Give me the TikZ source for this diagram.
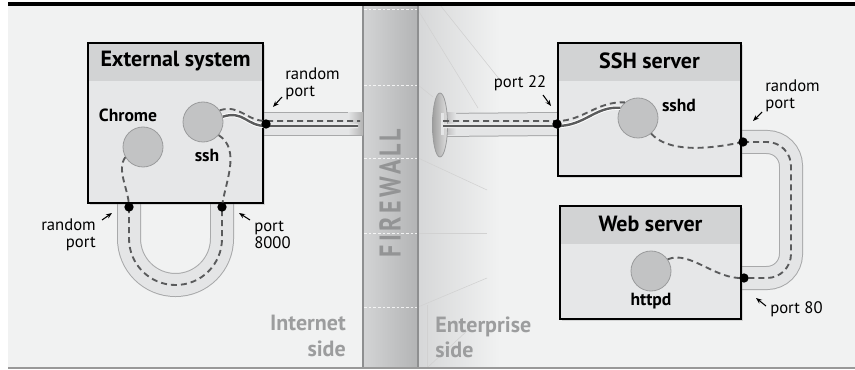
\documentclass[tikz,border=0pt]{standalone}
\usepackage{fontspec}
\setmainfont{PT Sans}
\newfontfamily\fwfont[LetterSpace=14]{PT Sans Bold}
\usetikzlibrary{arrows.meta,shadows}
\definecolor{bg}{HTML}{F1F2F2}
\definecolor{headfill}{HTML}{D2D3D4}
\definecolor{bodyfill}{HTML}{E6E7E8}
\definecolor{procfill}{HTML}{C2C3C4}
\definecolor{procline}{HTML}{9A9B9C}
\definecolor{pipeline}{HTML}{A8A9AA}
\definecolor{pipefill}{HTML}{E4E5E6}
\definecolor{dashcol}{HTML}{5A5B5C}
\definecolor{sidetext}{HTML}{9C9D9E}
\definecolor{fwtextcol}{HTML}{939495}
\definecolor{fwleft}{HTML}{D3D4D5}
\definecolor{fwright}{HTML}{B3B4B5}
\definecolor{fwedge}{HTML}{8E8F90}
\definecolor{entgray}{HTML}{D6D7D8}
\begin{document}
\begin{tikzpicture}[x=0.75pt,y=-0.75pt,
  sysbox/.style={draw=black, line width=1.8pt, fill=bodyfill, inner sep=0pt,
    drop shadow={shadow xshift=1.2pt, shadow yshift=-1.2pt, opacity=0.25},
    path picture={\fill[headfill] (path picture bounding box.north west) rectangle ([yshift=-28.5pt]path picture bounding box.north east);}},
  boxtitle/.style={font=\fontsize{16.5}{18}\selectfont\bfseries, inner sep=0pt},
  proc/.style={circle, draw=procline, line width=0.6pt, fill=procfill, minimum size=30pt, inner sep=0pt},
  plabel/.style={font=\fontsize{13.2}{14}\selectfont\bfseries, inner sep=0pt},
  portlab/.style={font=\fontsize{12.5}{12.5}\selectfont, inner sep=0pt, align=left},
  sidelab/.style={font=\fontsize{16.5}{19}\selectfont\bfseries, text=sidetext, inner sep=0pt},
  portdot/.style={circle, fill=black, minimum size=7pt, inner sep=0pt},
  pipeouter/.style={draw=pipeline, line width=18pt, line cap=butt},
  pipeinner/.style={draw=pipefill, line width=16.5pt, line cap=butt},
  tunnel/.style={draw=dashcol, line width=1.4pt, dash pattern=on 4.5pt off 3pt},
  solidconn/.style={draw=dashcol, line width=1.8pt},
  solidhalo/.style={draw=white, line width=3.2pt},
  ptr/.style={-{Stealth[length=4.5pt,width=3.5pt]}, line width=0.8pt, black},
  fwdots/.style={draw=white, line width=0.6pt, dash pattern=on 2pt off 1.5pt, opacity=0.8},
  faint/.style={draw=black!18, line width=0.4pt}
]
\useasboundingbox (0,0) rectangle (855,370);
% background
\fill[white] (0,0) rectangle (855,370);
\fill[bg] (8,5) rectangle (855,367);
\shade[left color=entgray, right color=bg] (418,5) rectangle (500,367);
% faint perspective lines on the enterprise side
\draw[faint] (418,10) -- (478,108);
\draw[faint] (440,5) -- (500,80);
\draw[faint] (418,85) -- (433,97);
\draw[faint] (418,158) -- (487,190);
\draw[faint] (418,233) -- (487,233);
\draw[faint] (418,307) -- (487,278);
\draw[faint] (428,367) -- (468,330);
\draw[faint] (427,305) -- (427,367);
% firewall
\shade[left color=fwleft, right color=fwright] (363,5) rectangle (418,367);
\draw[fwedge, line width=0.8pt] (363,5) -- (363,367);
\draw[fwedge, line width=1.2pt] (418,5) -- (418,367);
\foreach \yy in {9,85,158,233,307} \draw[fwdots] (364,\yy) -- (417,\yy);
\node[rotate=90, yscale=1.25, font=\fontsize{18}{18}\selectfont\fwfont, text=fwtextcol, inner sep=0pt] (fwtext) at (390,193) {FIREWALL};
% frame lines
\draw[black, line width=2.4pt] (8,4) -- (855,4);
\draw[black!40, line width=1.2pt] (8,368) -- (855,368);

% coordinates
\coordinate (fwL) at (363,124);
\coordinate (hole) at (440,125);
\coordinate (uL) at (129,285);
\coordinate (uR) at (222,285);
\coordinate (rTop) at (791,142);
\coordinate (rBot) at (791,278);

% ports (dots drawn later)
\coordinate (p1) at (266,124);
\coordinate (p2) at (557,124);
\coordinate (p3) at (743,142);
\coordinate (p4) at (744,278);
\coordinate (p5) at (129,207);
\coordinate (p6) at (222,207);

% pipes
\draw[pipeouter] (263,124) -- (fwL);
\draw[pipeinner] (263,124) -- (fwL);
\shade[left color=pipefill, right color=black!30] (348,113) rectangle (363,135);
\draw[pipeouter] (hole) -- (p2);
\draw[pipeinner] (hole) -- (p2);
\shade[left color=black!35, right color=pipefill] (440,113) rectangle (456,135);
\draw[procline, line width=0.6pt, left color=black!38, right color=black!12] (hole) ellipse [x radius=7.5, y radius=32];
\fill[pipefill] (441,113) rectangle (444,135);
\draw[pipeouter, rounded corners=18pt] (739,142) -- (rTop) -- (rBot) -- (739,278);
\draw[pipeinner, rounded corners=18pt] (739,142) -- (rTop) -- (rBot) -- (739,278);
\draw[pipeouter, rounded corners=34.8pt] (129,201) -- (uL) -- (uR) -- (222,201);
\draw[pipeinner, rounded corners=34.8pt] (129,201) -- (uL) -- (uR) -- (222,201);

% boxes
\node[sysbox, minimum width=131.25pt, minimum height=120pt] (ext) at (175.5,123) {};
\node[boxtitle] (exttitle) at ([yshift=-14.25pt]ext.north) {External system};
\node[sysbox, minimum width=137.25pt, minimum height=99.75pt] (sshsrv) at (649.5,109.5) {};
\node[boxtitle] (sshtitle) at ([yshift=-14.25pt]sshsrv.north) {SSH server};
\node[sysbox, minimum width=135.75pt, minimum height=84.75pt] (websrv) at (650.5,262.5) {};
\node[boxtitle] (webtitle) at ([yshift=-14.25pt]websrv.north) {Web server};

% processes
\node[proc] (chrome) at (143,147) {};
\node[proc] (ssh) at (203,122) {};
\node[proc] (sshd) at (638,118) {};
\node[proc] (httpd) at (651,271) {};
\node[plabel] (chromelab) at (128,115) {Chrome};
\node[plabel] (sshlab) at (207,155) {ssh};
\node[plabel] (sshdlab) at (679,105) {sshd};
\node[plabel] (httpdlab) at (651,301) {httpd};

% connections: ssh client to firewall
\draw[solidhalo] (ssh.15) .. controls (244,110) and (246,126) .. (266,126) -- (358,126);
\draw[solidconn] (ssh.15) .. controls (244,110) and (246,126) .. (266,126) -- (358,126);
\draw[tunnel] (ssh.35) .. controls (240,104) and (246,121) .. (266,121) -- (360,121);
% enterprise side to sshd
\draw[solidhalo] (443,126) -- (557,126) .. controls (585,126) and (595,106) .. (sshd.150);
\draw[solidconn] (443,126) -- (557,126) .. controls (585,126) and (595,106) .. (sshd.150);
\draw[tunnel] (443,121) -- (557,121) .. controls (583,121) and (597,101) .. (sshd.130);
% sshd to web server
\draw[tunnel] (sshd.-50) .. controls (668,152) and (705,150) .. (p3);
\draw[tunnel, rounded corners=18pt] (p3) -- (rTop) -- (rBot) -- (p4);
\draw[tunnel] (httpd.35) .. controls (690,250) and (715,280) .. (p4);
% local forward loop
\draw[tunnel] (chrome.210) .. controls (116,170) and (129,190) .. (p5);
\draw[tunnel, rounded corners=34.8pt] (p5) -- (uL) -- (uR) -- (p6);
\draw[tunnel] (ssh.-40) .. controls (242,150) and (224,185) .. (p6);

% dots
\node[portdot] (d1) at (p1) {};
\node[portdot] (d2) at (p2) {};
\node[portdot] (d3) at (p3) {};
\node[portdot] (d4) at (p4) {};
\node[portdot] (d5) at (p5) {};
\node[portdot] (d6) at (p6) {};

% port labels and pointers
\node[portlab, anchor=west] (l1) at (285,84) {random\\port};
\draw[ptr] (282,97) -- (273,107);
\node[portlab] (l2) at (520,83) {port 22};
\draw[ptr] (543,95) -- (551,106);
\node[portlab, anchor=west] (l3) at (765,96) {random\\port};
\draw[ptr] (762,112) -- (753,121);
\node[portlab, anchor=west] (l4) at (770,309) {port 80};
\draw[ptr] (766,306) -- (756,298);
\node[portlab, anchor=east, align=right] (l5) at (96,235) {random\\port};
\draw[ptr] (102,220) -- (112,213);
\node[portlab, anchor=west] (l6) at (254,235) {port\\8000};
\draw[ptr] (250,220) -- (239,213);

% side labels
\node[sidelab, anchor=east, align=right] (inet) at (346,336) {Internet\\side};
\node[sidelab, anchor=west, align=left] (ent) at (435,337) {Enterprise\\side};
\end{tikzpicture}
\end{document}
